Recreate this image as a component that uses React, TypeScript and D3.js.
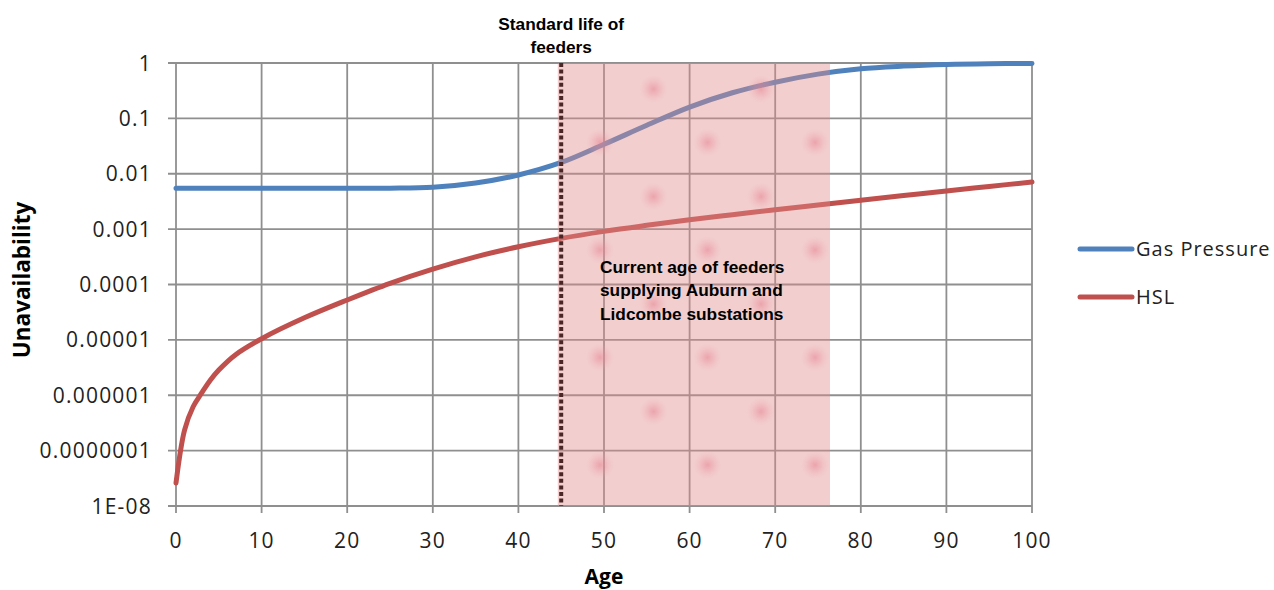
import React from 'react';
import * as d3 from 'd3';

// ages (x) and unavailability values
const ages = [0, 1, 2, 3, 4, 5, 7, 10, 15, 20, 25, 30, 35, 40, 45, 50, 55, 60, 65, 70, 75, 80, 85, 90, 95, 100];
const gasPressure = [0.0055, 0.0055, 0.0055, 0.0055, 0.0055, 0.0055, 0.0055, 0.0055, 0.0055, 0.0055, 0.0055, 0.0057, 0.0068, 0.0095, 0.016, 0.034, 0.075, 0.16, 0.29, 0.45, 0.63, 0.79, 0.88, 0.94, 0.97, 0.98];
const hsl = [2.6e-8, 2.35e-7, 6.2e-7, 1.1e-6, 1.87e-6, 2.86e-6, 5.47e-6, 1.05e-5, 2.5e-5, 5.25e-5, 1.05e-4, 1.9e-4, 3.16e-4, 4.8e-4, 6.8e-4, 9.1e-4, 1.17e-3, 1.48e-3, 1.82e-3, 2.24e-3, 2.72e-3, 3.31e-3, 4.03e-3, 4.9e-3, 5.9e-3, 7.1e-3];

const xTicks = [0, 10, 20, 30, 40, 50, 60, 70, 80, 90, 100];
const yTicks = [1, 0.1, 0.01, 0.001, 0.0001, 0.00001, 0.000001, 0.0000001, 1e-8];
const yTickLabels = ['1', '0.1', '0.01', '0.001', '0.0001', '0.00001', '0.000001', '0.0000001', '1E-08'];

const standardLife = 45;
const currentAgeRange = [44.6, 76.4];

const series = [
    { name: 'Gas Pressure', values: gasPressure, color: '#4f81bd' },
    { name: 'HSL', values: hsl, color: '#c0504d' },
];

const App: React.FC = () => {
    const width = 1274;
    const height = 590;

    const x = d3.scaleLinear().domain([0, 100]).range([176, 1032]);
    const y = d3.scaleLog().domain([1e-8, 1]).range([506, 63]);

    const line = d3.line<number>()
        .x((_, i) => x(ages[i]))
        .y(d => y(d))
        .curve(d3.curveCatmullRom.alpha(0.5));

    const tickFont = "'Open Sans', 'Noto Sans', sans-serif";
    const boldFont = "'Liberation Sans', Arial, sans-serif";
    const gridColor = '#8f8f8f';

    const shadeX0 = x(currentAgeRange[0]);
    const shadeX1 = x(currentAgeRange[1]);

    return (
        <svg width={width} height={height}
            style={{ position: 'absolute', left: 0, top: 0, background: 'white' }}>
            <defs>
                <radialGradient id="spot">
                    <stop offset="0%" stopColor="#e6808f" stopOpacity={0.55} />
                    <stop offset="45%" stopColor="#e8909c" stopOpacity={0.3} />
                    <stop offset="100%" stopColor="#f0b0b8" stopOpacity={0} />
                </radialGradient>
                <pattern id="spots" patternUnits="userSpaceOnUse" width={107.5} height={107.5}
                    x={546} y={35}>
                    <circle cx={54} cy={107.5} r={14} fill="url(#spot)" />
                    <circle cx={54} cy={0} r={14} fill="url(#spot)" />
                    <circle cx={107.5} cy={54} r={14} fill="url(#spot)" />
                    <circle cx={0} cy={54} r={14} fill="url(#spot)" />
                </pattern>
                <clipPath id="shadeClip">
                    <rect x={shadeX0} y={y(1)} width={shadeX1 - shadeX0} height={y(1e-8) - y(1)} />
                </clipPath>
            </defs>

            {/* grid */}
            <g>
                {yTicks.map(t => (
                    <line key={'gy' + t} x1={168} x2={x(100)} y1={y(t)} y2={y(t)}
                        stroke={gridColor} strokeWidth={1.8} />
                ))}
                {xTicks.map(t => (
                    <line key={'gx' + t} x1={x(t)} x2={x(t)} y1={y(1)} y2={y(1e-8) + 7}
                        stroke={gridColor} strokeWidth={1.8} />
                ))}
            </g>

            {/* tick labels */}
            <g fontFamily={tickFont} fontSize={21} fill="#222" letterSpacing={1.2}>
                {yTicks.map((t, i) => (
                    <text key={'ly' + t} x={152} y={y(t) + 7.5} textAnchor="end">{yTickLabels[i]}</text>
                ))}
                {xTicks.map(t => (
                    <text key={'lx' + t} x={x(t)} y={548} textAnchor="middle">{t}</text>
                ))}
            </g>

            {/* series */}
            {series.map(s => (
                <path key={s.name} d={line(s.values) || ''} fill="none" stroke={s.color}
                    strokeWidth={5} strokeLinecap="round" />
            ))}

            {/* shaded current age band */}
            <rect x={shadeX0} y={y(1)} width={shadeX1 - shadeX0} height={y(1e-8) - y(1)}
                fill="#e08a8a" fillOpacity={0.42} />
            <rect x={shadeX0} y={y(1)} width={shadeX1 - shadeX0} height={y(1e-8) - y(1)}
                fill="url(#spots)" clipPath="url(#shadeClip)" />

            {/* standard life dotted line */}
            <line x1={x(standardLife)} x2={x(standardLife)} y1={y(1)} y2={y(1e-8)}
                stroke="#4a2626" strokeWidth={4} strokeDasharray="4 2.6" />

            {/* annotations */}
            <g fontFamily={boldFont} fontSize={17.3} fontWeight="bold" fill="#000">
                <text x={x(standardLife)} y={30} textAnchor="middle">Standard life of</text>
                <text x={x(standardLife)} y={53} textAnchor="middle">feeders</text>
                <text x={600} y={273}>Current age of feeders</text>
                <text x={600} y={296}>supplying Auburn and</text>
                <text x={600} y={320}>Lidcombe substations</text>
            </g>

            {/* axis titles */}
            <text transform="translate(30,280) rotate(-90)" textAnchor="middle"
                fontFamily={tickFont} fontSize={22.5} fontWeight="bold" fill="#000">Unavailability</text>
            <text x={604} y={584} textAnchor="middle"
                fontFamily={tickFont} fontSize={21} fontWeight="bold" fill="#000">Age</text>

            {/* legend */}
            <g fontFamily={tickFont} fontSize={20} fill="#222" letterSpacing={1}>
                {series.map((s, i) => (
                    <g key={'lg' + s.name} transform={`translate(1078, ${249 + i * 48})`}>
                        <line x1={2} x2={54} y1={0} y2={0} stroke={s.color} strokeWidth={5} strokeLinecap="round" />
                        <text x={58} y={7}>{s.name}</text>
                    </g>
                ))}
            </g>
        </svg>
    );
};

export default App;
